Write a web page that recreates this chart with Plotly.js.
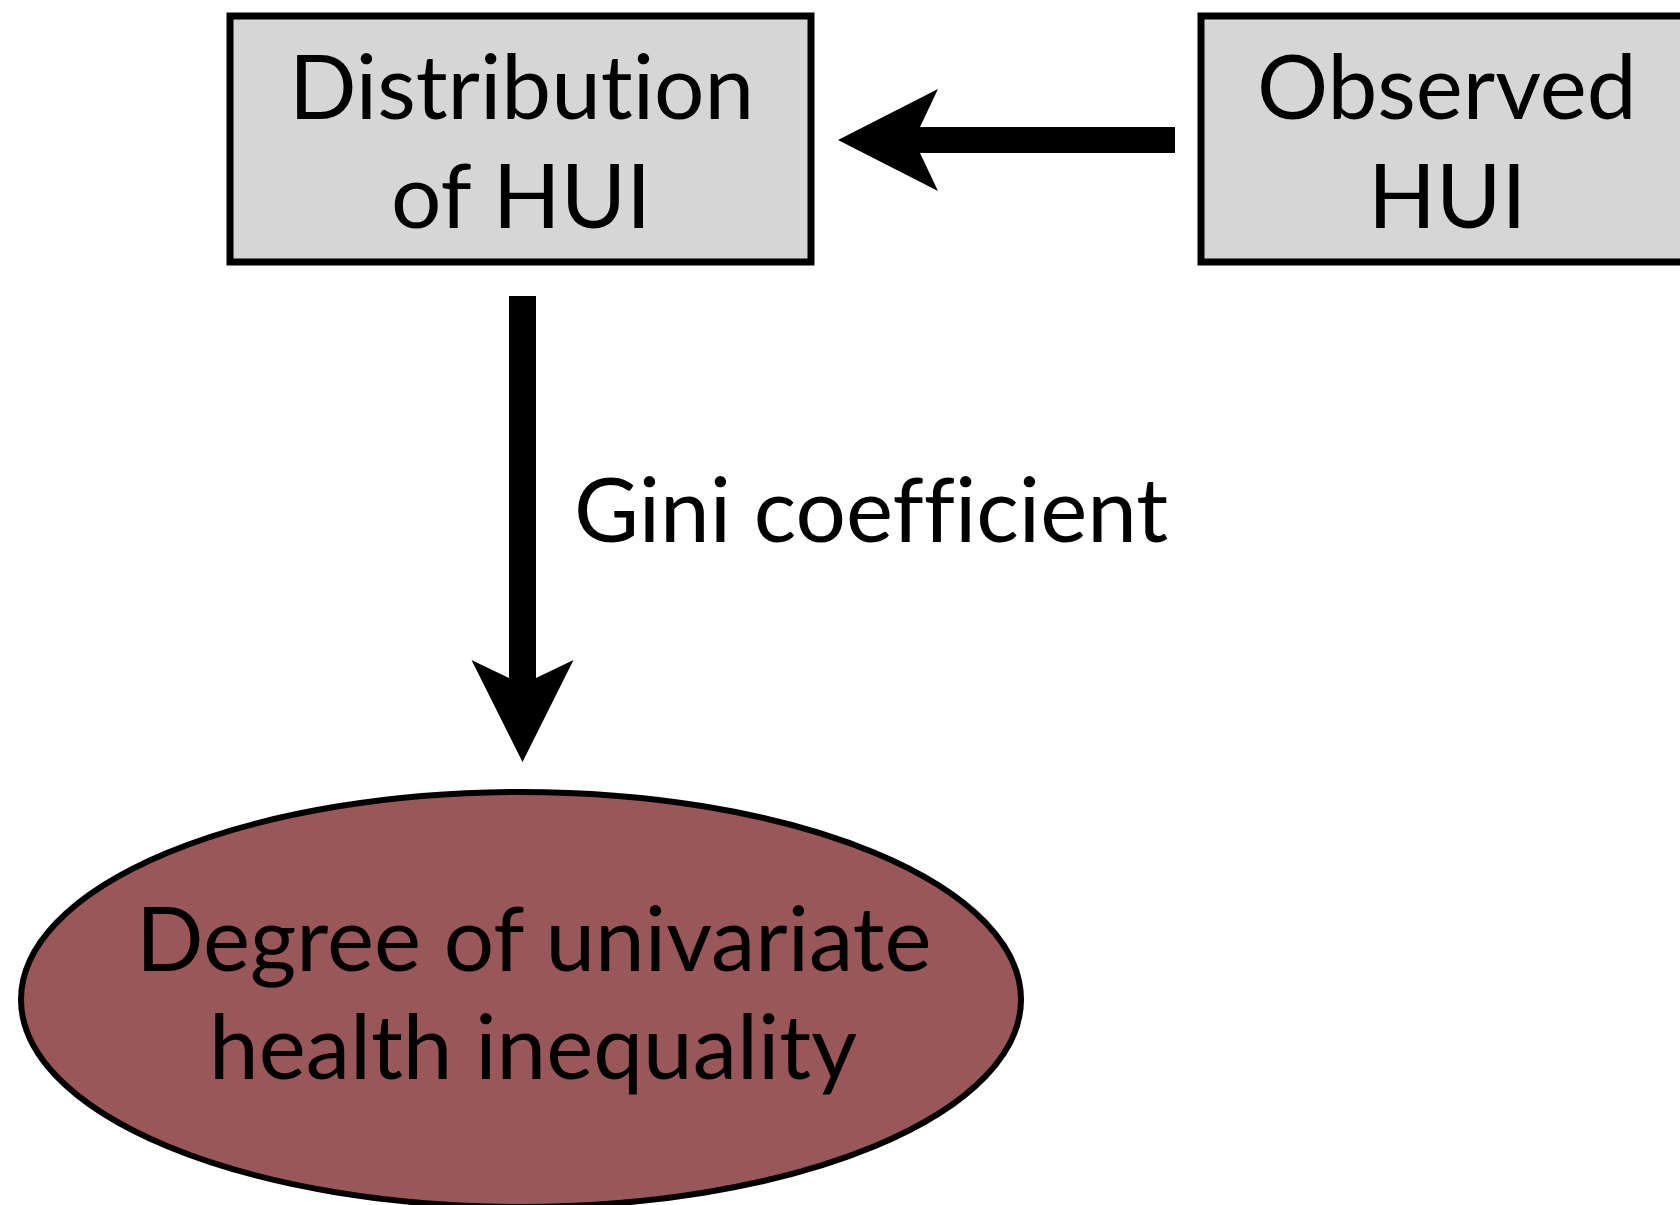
<!DOCTYPE html>
<html>
<head>
<meta charset="utf-8">
<script src="https://cdn.plot.ly/plotly-3.0.1.min.js"></script>
<style>
html,body{margin:0;padding:0;background:#fff;}
#chart{width:1680px;height:1205px;}
svg text{font-variant-ligatures:none !important;font-feature-settings:"liga" 0, "clig" 0 !important;}
</style>
</head>
<body>
<div id="chart"></div>
<script>
// ---- content ----
const nodeIds = ["dist", "obs", "degree"];
const nodeLines = [["Distribution", "of HUI"], ["Observed", "HUI"], ["Degree of univariate", "health inequality"]];
const edgeFrom = ["obs", "dist"];
const edgeTo = ["dist", "degree"];
const edgeLabels = ["", "Gini coefficient"];

// ---- geometry (layout only) ----
const W = 1680, H = 1205;
const geom = {
  dist:   {type: "rect", x0: 230, x1: 811, y0: 16, y1: 262, tx: 521, ty: [84, 193]},
  obs:    {type: "rect", x0: 1201, x1: 1700, y0: 16, y1: 262, tx: 1447, ty: [84, 193]},
  degree: {type: "circle", x0: 21, x1: 1021, y0: 792, y1: 1207, tx: 533, ty: [936, 1044]}
};
const edgeGeom = [
  {dir: "left", shaftStart: 1175, shaftEnd: 925, c: 140, tip: 838, back: 938, notch: 920, half: 51, sw: 13, label: null},
  {dir: "down", shaftStart: 296, shaftEnd: 684, c: 522.5, tip: 762, back: 660, notch: 678, half: 51, sw: 13.5, label: {x: 572, y: 507}}
];
const FONT = "Lato, 'Open Sans', sans-serif";
const FS = 89;

const shapes = [];
const annotations = [];

nodeIds.forEach((id, i) => {
  const g = geom[id];
  if (g.type === "rect") {
    shapes.push({type: "rect", xref: "x", yref: "y", x0: g.x0, x1: g.x1, y0: g.y0, y1: g.y1,
      fillcolor: "#d6d6d6", line: {color: "#000", width: 7}, layer: "below"});
  } else {
    shapes.push({type: "circle", xref: "x", yref: "y", x0: g.x0, x1: g.x1, y0: g.y0, y1: g.y1,
      fillcolor: "#9a5759", line: {color: "#000", width: 6}, layer: "below"});
  }
  nodeLines[i].forEach((t, k) => {
    annotations.push({xref: "x", yref: "y", x: g.tx, y: g.ty[k], text: t, showarrow: false,
      xanchor: "center", yanchor: "middle", font: {family: FONT, size: FS, color: "#000"}});
  });
});

edgeGeom.forEach((e, i) => {
  let path;
  if (e.dir === "left") {
    path = `M ${e.shaftStart} ${e.c - e.sw} L ${e.notch} ${e.c - e.sw} L ${e.back} ${e.c - e.half} L ${e.tip} ${e.c} ` +
           `L ${e.back} ${e.c + e.half} L ${e.notch} ${e.c + e.sw} L ${e.shaftStart} ${e.c + e.sw} Z`;
  } else {
    path = `M ${e.c - e.sw} ${e.shaftStart} L ${e.c - e.sw} ${e.notch} L ${e.c - e.half} ${e.back} L ${e.c} ${e.tip} ` +
           `L ${e.c + e.half} ${e.back} L ${e.c + e.sw} ${e.notch} L ${e.c + e.sw} ${e.shaftStart} Z`;
  }
  shapes.push({type: "path", xref: "x", yref: "y", path: path, fillcolor: "#000", line: {color: "#000", width: 0}});
  if (e.label && edgeLabels[i]) {
    annotations.push({xref: "x", yref: "y", x: e.label.x, y: e.label.y, text: edgeLabels[i], showarrow: false,
      xanchor: "left", yanchor: "middle", font: {family: FONT, size: FS, color: "#000"}});
  }
});

const layout = {
  width: W, height: H,
  margin: {l: 0, r: 0, t: 0, b: 0, pad: 0},
  paper_bgcolor: "#ffffff", plot_bgcolor: "#ffffff",
  xaxis: {range: [0, W], visible: false, fixedrange: true},
  yaxis: {range: [H, 0], visible: false, fixedrange: true},
  showlegend: false,
  shapes: shapes,
  annotations: annotations
};

Plotly.newPlot("chart", [{x: [], y: [], type: "scatter", mode: "markers", hoverinfo: "skip"}], layout,
  {staticPlot: true, displayModeBar: false});
</script>
</body>
</html>
